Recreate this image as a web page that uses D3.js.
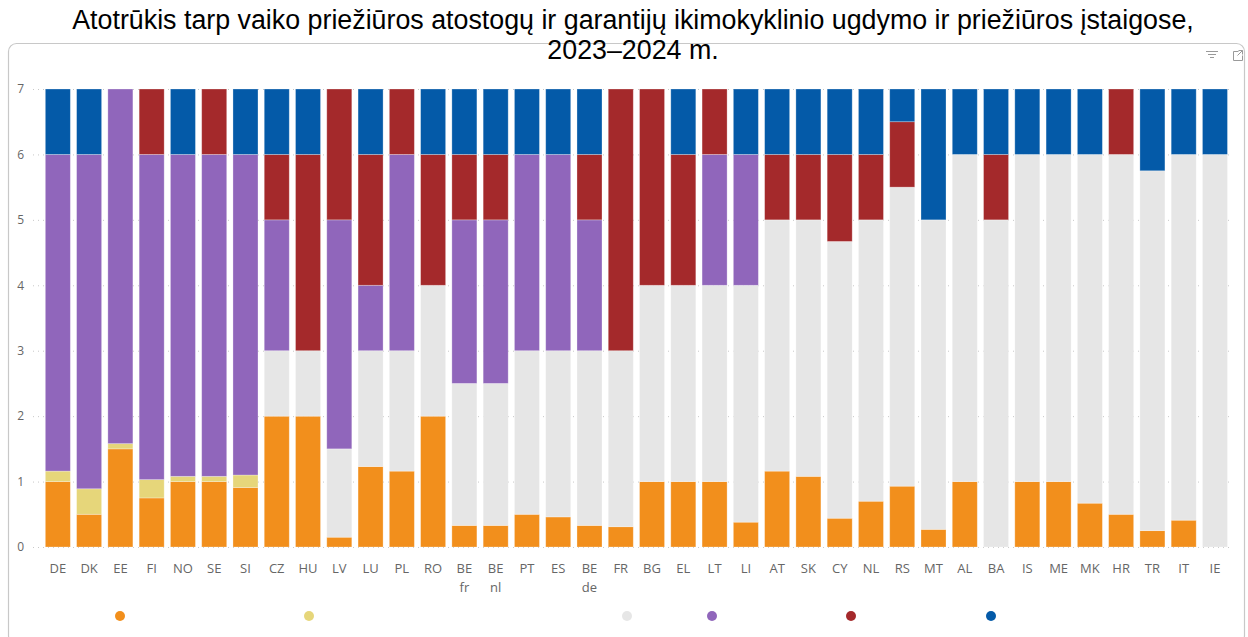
<!DOCTYPE html>
<html><head><meta charset="utf-8">
<script src="https://cdn.jsdelivr.net/npm/d3@7"></script>
<style>body{margin:0;background:#fff;} svg{display:block;}</style>
</head><body>
<svg id="c" width="1248" height="637"></svg>
<script>
const categories = ["DE","DK","EE","FI","NO","SE","SI","CZ","HU","LV","LU","PL","RO","BE fr","BE nl","PT","ES","BE de","FR","BG","EL","LT","LI","AT","SK","CY","NL","RS","MT","AL","BA","IS","ME","MK","HR","TR","IT","IE"];
// segment lengths per series (bottom to top)
const orange = [1.0,0.5,1.5,0.75,1.0,1.0,0.91,2,2,0.15,1.23,1.16,2,0.33,0.33,0.5,0.46,0.33,0.31,1,1,1,0.38,1.16,1.08,0.44,0.7,0.93,0.27,1,0,1,1,0.67,0.5,0.25,0.41,0];
const yellow = [0.16,0.39,0.08,0.28,0.08,0.08,0.19,0,0,0,0,0,0,0,0,0,0,0,0,0,0,0,0,0,0,0,0,0,0,0,0,0,0,0,0,0,0,0];
const gray   = [0,0,0,0,0,0,0,1,1,1.35,1.77,1.84,2,2.17,2.17,2.5,2.54,2.67,2.69,3,3,3,3.62,3.84,3.92,4.23,4.3,4.57,4.73,5,5,5,5,5.33,5.5,5.5,5.59,6];
const purple = [4.84,5.11,5.42,4.97,4.92,4.92,4.9,2,0,3.5,1,3,0,2.5,2.5,3,3,2,0,0,0,2,2,0,0,0,0,0,0,0,0,0,0,0,0,0,0,0];
const red    = [0,0,0,1,0,1,0,1,3,2,2,1,2,1,1,0,0,1,4,3,2,1,0,1,1,1.33,1,1,0,0,1,0,0,0,1,0,0,0];
const blue   = [1,1,0,0,1,0,1,1,1,0,1,0,1,1,1,1,1,1,0,0,1,0,1,1,1,1,1,0.5,2,1,1,1,1,1,0,1.25,1,1];
const seriesNames = ["orange","yellow","gray","purple","red","blue"];
const seriesData = [orange,yellow,gray,purple,red,blue];
const colors = ["#F28F1C","#E6D67A","#E6E6E6","#9066BB","#A4292B","#045AA8"];
const yTicks = [0,1,2,3,4,5,6,7];
const titleLines = ["Atotrūkis tarp vaiko priežiūros atostogų ir garantijų ikimokyklinio ugdymo ir priežiūros įstaigose,","2023–2024 m."];

const svg = d3.select("#c");
// card
svg.append("rect").attr("x",8.5).attr("y",43.5).attr("width",1236).attr("height",600)
  .attr("rx",8).attr("fill","#fff").attr("stroke","#c8c8c8").attr("stroke-width",1.2);

// title
svg.append("g").selectAll("text").data(titleLines).join("text")
  .attr("x",633).attr("y",(d,i)=>29+i*30)
  .attr("text-anchor","middle").attr("font-family","Liberation Sans, Arial, sans-serif")
  .attr("font-size",26.8).attr("fill","#000").text(d=>d);

const x = d3.scaleBand().domain(categories).range([42.2,1230.6]).paddingInner(0.2).paddingOuter(0.1);
const y = d3.scaleLinear().domain([0,7]).range([547,89]);

// grid
svg.append("g").selectAll("line").data(yTicks).join("line")
  .attr("x1",33).attr("x2",1232).attr("y1",d=>y(d)+0.5).attr("y2",d=>y(d)+0.5)
  .attr("stroke","#c8c8c8").attr("stroke-dasharray","1,4").attr("stroke-width",1);

// y axis labels
const yAxis = d3.axisLeft(y).tickValues(yTicks).tickFormat(d3.format("d")).tickSize(0).tickPadding(0);
const ya = svg.append("g").attr("transform","translate(24,0)").call(yAxis);
ya.select(".domain").remove();
ya.selectAll("text").attr("font-family","Open Sans, DejaVu Sans, sans-serif").attr("font-size",12).attr("fill","#666");

// stack
const rows = categories.map((c,i)=>{const o={cat:c}; seriesNames.forEach((s,k)=>o[s]=seriesData[k][i]); return o;});
const stack = d3.stack().keys(seriesNames)(rows);
svg.append("g").selectAll("g").data(stack).join("g")
  .attr("fill",(d,i)=>colors[i])
  .selectAll("rect").data(d=>d.filter(p=>p[1]-p[0]>0.001)).join("rect")
  .attr("x",d=>x(d.data.cat)).attr("width",x.bandwidth())
  .attr("y",d=>y(d[1])).attr("height",d=>y(d[0])-y(d[1]))
  .attr("stroke","rgba(255,255,255,0.35)").attr("stroke-width",0.8);

// x axis labels
const xa = svg.append("g").attr("transform","translate(0,547)");
categories.forEach(c=>{
  const parts = c.split(" ");
  const t = xa.append("text").attr("x",x(c)+x.bandwidth()/2).attr("y",26)
    .attr("text-anchor","middle").attr("font-family","Open Sans, DejaVu Sans, sans-serif")
    .attr("font-size",13).attr("fill","#666");
  parts.forEach((p,j)=>t.append("tspan").attr("x",x(c)+x.bandwidth()/2).attr("dy",j===0?0:19).text(p));
});

// legend dots
const legendX = [120,309,627,712,851,991];
svg.append("g").selectAll("circle").data(colors).join("circle")
  .attr("cx",(d,i)=>legendX[i]).attr("cy",616).attr("r",5).attr("fill",d=>d);

// top-right icons
const ic = svg.append("g").attr("stroke","#9a9a9a").attr("stroke-width",1).attr("fill","none");
ic.append("line").attr("x1",1206).attr("x2",1218).attr("y1",51.5).attr("y2",51.5);
ic.append("line").attr("x1",1208).attr("x2",1216).attr("y1",54.5).attr("y2",54.5);
ic.append("line").attr("x1",1210).attr("x2",1214).attr("y1",57.5).attr("y2",57.5);
ic.append("path").attr("d","M1238.5,51.5 h-5 v9 h9 v-5 M1238.5,50.5 h4 v4 M1242.5,50.5 l-5,5");
</script>
</body></html>
